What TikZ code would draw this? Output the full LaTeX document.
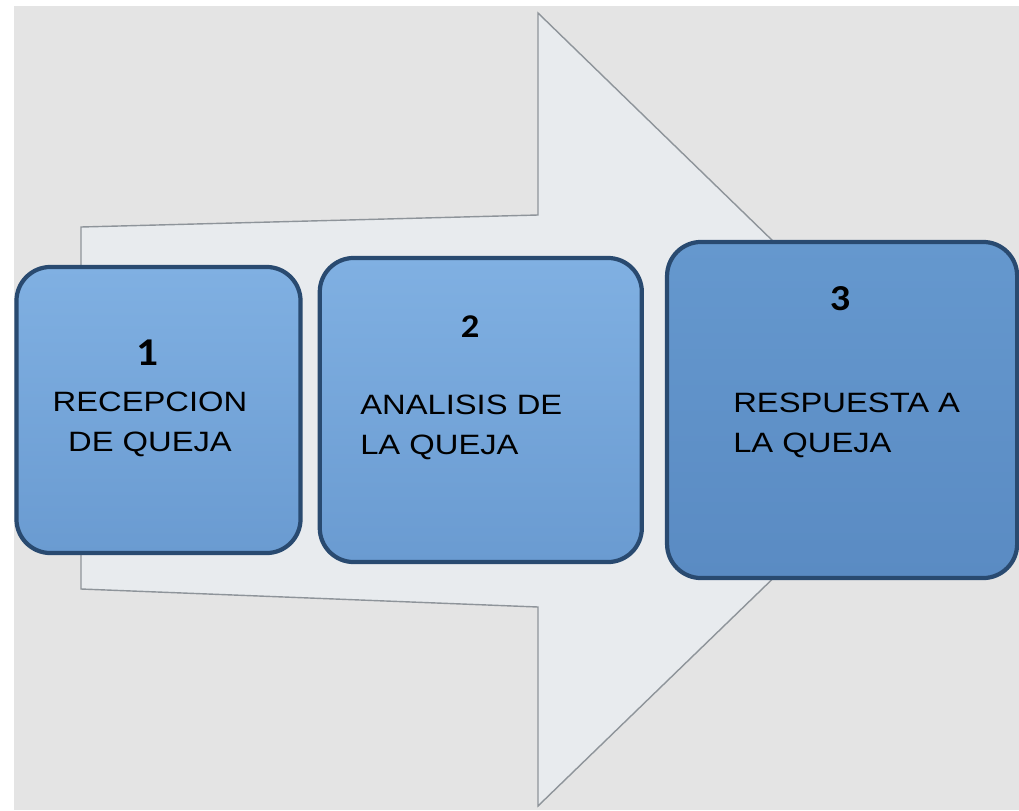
\documentclass[tikz,border=0pt]{standalone}
\usepackage{fontspec}
\usetikzlibrary{positioning}
\newfontfamily\etiq[FakeStretch=1.17]{Liberation Sans}
\newfontfamily\cifra[FakeStretch=1.1]{Carlito}
\definecolor{fondo}{HTML}{E4E4E4}
\definecolor{flechaf}{HTML}{E8EBEE}
\definecolor{flechab}{HTML}{8E949A}
\definecolor{borde}{HTML}{294A70}
\definecolor{azulA}{HTML}{80B0E2}
\definecolor{azulB}{HTML}{6A9BD1}
\definecolor{azulC}{HTML}{6598CE}
\definecolor{azulD}{HTML}{5A8BC3}

\begin{document}
\begin{tikzpicture}[x=0.025cm, y=-0.025cm, node distance=3.75mm,
  paso/.style = {draw=borde, line width=3pt, rounded corners=8.5mm, inner sep=0,
    top color=azulA, bottom color=azulB},
  num/.style = {inner sep=0, anchor=base},
  txt/.style = {font=\etiq\fontsize{19.9}{28.5}\selectfont, inner sep=0}]
% fondo
\fill[white] (0,0) rectangle (1019,810);
\fill[fondo] (14,6) rectangle (1019,810);
\useasboundingbox (0,0) rectangle (1019,810);
% flecha grande
\draw[fill=flechaf, draw=flechab, line width=1pt, line join=miter]
  (81,227) -- (538,215) -- (538,13) -- (947,410) -- (538,806) -- (538,607) -- (81,589) -- cycle;
% pasos
\node[paso, minimum width=7.1cm, minimum height=7.15cm] (1) at (158.5,410) {};
\node[paso, minimum width=8.05cm, minimum height=7.6cm] (2) [right=of 1] {};
\node[paso, minimum width=8.75cm, minimum height=8.4cm, top color=azulC, bottom color=azulD] (3) [right=5.25mm of 2] {};
% numeros
\node[num, font=\cifra\bfseries\fontsize{28}{28}\selectfont] (n1) at (147,365) {1};
\node[num, font=\cifra\bfseries\fontsize{23.6}{24}\selectfont] (n2) at (470,337) {2};
\node[num, font=\cifra\bfseries\fontsize{26}{26}\selectfont] (n3) at (840,310) {3};
% textos
\node[txt, anchor=north, align=center] (t1) at (150,391.5) {RECEPCION\\DE QUEJA};
\node[txt, anchor=north west, align=left] (t2) at (360,394.5) {ANALISIS DE\\LA QUEJA};
\node[txt, anchor=north west, align=left] (t3) at (733,392.5) {RESPUESTA A\\LA QUEJA};
\end{tikzpicture}
\end{document}
